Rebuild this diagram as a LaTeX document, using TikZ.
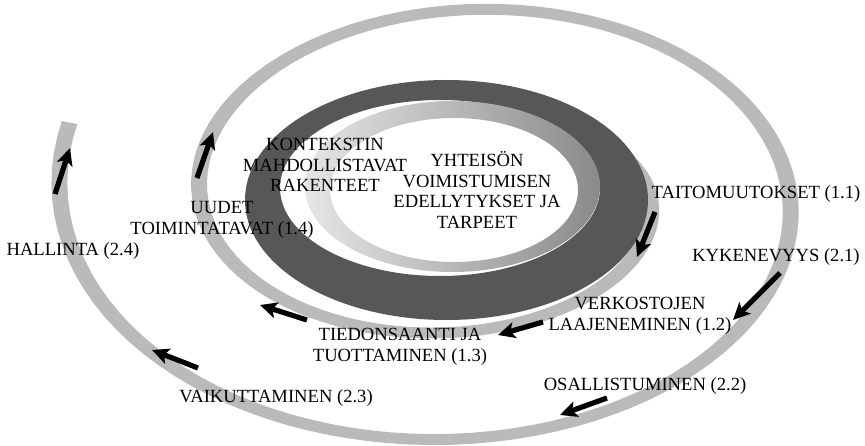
\documentclass[tikz,border=0pt]{standalone}
\usepackage{fontspec}
\setmainfont{Liberation Serif}
\usetikzlibrary{arrows.meta}

\begin{document}
\begin{tikzpicture}[x=1pt,y=-1pt,
  band/.style     ={fill=black!27},
  ringdark/.style ={fill=black!66},
  ringlight/.style={left color=black!10,right color=black!46},
  flow/.style     ={-{Stealth[length=17pt,width=16pt,inset=4pt]},line width=5.2pt,black},
  lbl/.style      ={align=center,inner sep=0pt,font=\fontsize{18.6}{20.5}\selectfont}
]
  % ----- spiral parameters (pixel units, y downwards) -----
  \def\cx{460}    \def\cy{197.75}
  \def\ao{190}    \def\ka{0.3889}
  \def\bo{107.5}  \def\kb{0.2972}
  \def\wa{8}      \def\wb{5.5}

  \useasboundingbox (0,0) rectangle (865,446);

  % ----- spiral band, from the ring outwards -----
  \fill[band] plot[domain=-30:556,samples=180,variable=\t]
      ({\cx+(\ao+\ka*\t+\wa)*cos(\t)},{\cy+(\bo+\kb*\t+\wb)*sin(\t)})
    -- plot[domain=556:-30,samples=180,variable=\t]
      ({\cx+(\ao+\ka*\t-\wa)*cos(\t)},{\cy+(\bo+\kb*\t-\wb)*sin(\t)})
    -- cycle;

  % ----- the two rings in the middle -----
  \fill[ringdark,even odd rule]
    (446.5,200) ellipse [x radius=201.5pt,y radius=120pt]
    (440,188) ellipse [x radius=160pt,y radius=88pt];
  \shade[ringlight,even odd rule]
    (452.5,186.5) ellipse [x radius=147.5pt,y radius=85.5pt]
    (454,190) ellipse [x radius=124pt,y radius=72pt];

  % ----- arrows along the spiral -----
  \foreach \xa/\ya/\xb/\yb in {655/212/637/257, 780/273/733/320,
      543/322/498/335, 307/320/260/305, 197/178/213/132,
      55/194/70/148, 198/368/152/350, 607/398/560/415}
    \draw[flow] (\xa,\ya) -- (\xb,\yb);

  % ----- labels -----
  \node[lbl] (context) at (325,165) {KONTEKSTIN\\MAHDOLLISTAVAT\\RAKENTEET};
  \node[lbl] (core)    at (477,190) {YHTEISÖN\\VOIMISTUMISEN\\EDELLYTYKSET JA\\TARPEET};
  \node[lbl] (taito)   at (756,194) {TAITOMUUTOKSET (1.1)};
  \node[lbl] (kyky)    at (776,257) {KYKENEVYYS (2.1)};
  \node[lbl] (verkko)  at (640,316) {VERKOSTOJEN\\LAAJENEMINEN (1.2)};
  \node[lbl] (osall)   at (645,386) {OSALLISTUMINEN (2.2)};
  \node[lbl] (tieto)   at (400,347) {TIEDONSAANTI JA\\TUOTTAMINEN (1.3)};
  \node[lbl] (vaik)    at (276,398) {VAIKUTTAMINEN (2.3)};
  \node[lbl] (hall)    at (73,251)  {HALLINTA (2.4)};
  \node[lbl] (uudet)   at (222,220) {UUDET\\TOIMINTATAVAT (1.4)};
\end{tikzpicture}
\end{document}
